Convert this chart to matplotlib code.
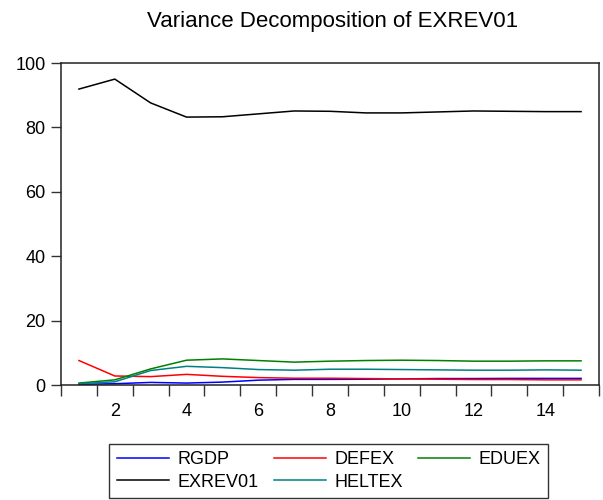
import matplotlib
matplotlib.use("Agg")
import matplotlib.pyplot as plt
from matplotlib.ticker import FixedLocator, NullFormatter

plt.rcParams['font.family'] = ['Liberation Sans', 'DejaVu Sans']

periods = list(range(1, 16))
RGDP = [0.2, 0.4, 0.8, 0.6, 0.9, 1.5, 1.75, 1.75, 1.8, 1.9, 2.0, 2.0, 2.05, 2.05, 2.05]
DEFEX = [7.6, 2.8, 2.6, 3.3, 2.7, 2.3, 2.1, 2.1, 2.0, 1.9, 1.8, 1.7, 1.7, 1.6, 1.6]
EDUEX = [0.6, 1.6, 5.0, 7.7, 8.1, 7.6, 7.1, 7.4, 7.6, 7.7, 7.6, 7.4, 7.4, 7.5, 7.5]
EXREV01 = [91.9, 95.0, 87.6, 83.2, 83.3, 84.2, 85.1, 85.0, 84.5, 84.5, 84.8, 85.1, 85.0, 84.9, 84.9]
HELTEX = [0.4, 1.0, 4.5, 5.8, 5.4, 4.8, 4.6, 4.9, 4.9, 4.8, 4.7, 4.6, 4.6, 4.7, 4.6]

series = [("RGDP", RGDP, "#0000ff"),
          ("DEFEX", DEFEX, "#ff0000"),
          ("EDUEX", EDUEX, "#008000"),
          ("EXREV01", EXREV01, "#000000"),
          ("HELTEX", HELTEX, "#008080")]

xticklabels = [2, 4, 6, 8, 10, 12, 14]
yticks = [0, 20, 40, 60, 80, 100]

fig = plt.figure(figsize=(6.03, 5.0), dpi=100)
ax = fig.add_axes([61/603, 1 - 385/500, (599 - 61)/603, (385 - 63)/500])

handles = {}
for name, vals, col in series:
    handles[name], = ax.plot(periods, vals, color=col, lw=1.1, label=name)

ax.set_xlim(0.5, 15.5)
ax.set_ylim(0, 100)
ax.set_yticks(yticks)
ax.set_yticklabels([str(v) for v in yticks])

ax.set_xticks(xticklabels)
ax.set_xticklabels([str(v) for v in xticklabels])
ax.xaxis.set_minor_locator(FixedLocator([p + 0.5 for p in [0] + periods]))
ax.xaxis.set_minor_formatter(NullFormatter())
ax.tick_params(axis='x', which='major', length=0, pad=13, labelsize=13)
ax.tick_params(axis='x', which='minor', length=8, width=1, color='#333333', direction='out')
ax.tick_params(axis='y', which='major', length=7, width=1, color='#333333', pad=4, labelsize=13)

for s in ax.spines.values():
    s.set_color('#222222')
    s.set_linewidth(1.1)

fig.text(333/603, 1 - 21/500, "Variance Decomposition of EXREV01", ha='center', va='center',
         fontsize=16)

# row-wise ordering in a 3-column legend
order = ["RGDP", "EXREV01", "DEFEX", "HELTEX", "EDUEX"]
leg = fig.legend([handles[n] for n in order], order,
                 loc='upper center', bbox_to_anchor=(328.5/603, 1 - 444/500), ncol=3,
                 fontsize=13, frameon=True, fancybox=False, edgecolor='#333333',
                 framealpha=1, handlelength=2.9, handletextpad=0.45, columnspacing=0.85,
                 labelspacing=0.3, borderpad=0.4, borderaxespad=0)
leg.get_frame().set_linewidth(1.0)

fig.savefig("out.png", dpi=100)
